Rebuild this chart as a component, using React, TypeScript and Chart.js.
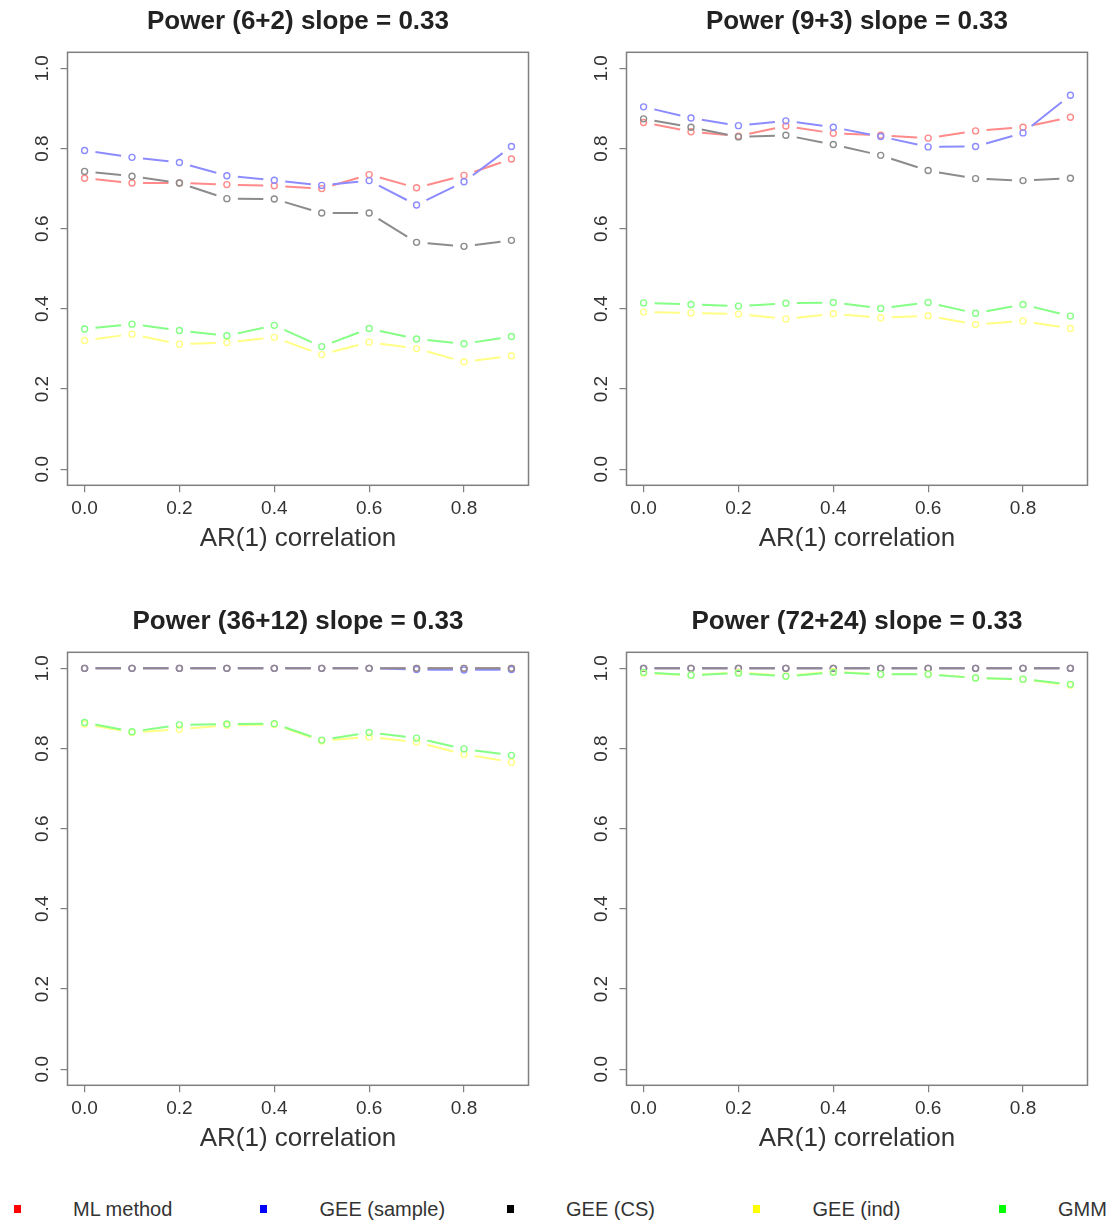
import React, { useEffect, useRef } from "react";
import { Chart, registerables } from "chart.js";

Chart.register(...registerables);

// ---------- data ----------
const xValues = [0, 0.1, 0.2, 0.3, 0.4, 0.5, 0.6, 0.7, 0.8, 0.9];
const xTicks = [0, 0.2, 0.4, 0.6, 0.8];
const yTicks = [0, 0.2, 0.4, 0.6, 0.8, 1.0];

const seriesNames = ["ML method", "GEE (sample)", "GEE (CS)", "GEE (ind)", "GMM"];
const legendColors = ["#ff0000", "#0000ff", "#000000", "#ffff00", "#00ff00"];
const lineColors = ["#ff8a8a", "#8c8cff", "#8c8c8c", "#ffff85", "#85ff85"];

const panelTitles = [
  "Power (6+2) slope = 0.33",
  "Power (9+3) slope = 0.33",
  "Power (36+12) slope = 0.33",
  "Power (72+24) slope = 0.33",
];

// Panel 1 (6+2)
const ml1 = [0.726, 0.714, 0.714, 0.71, 0.707, 0.7, 0.735, 0.702, 0.733, 0.774];
const sample1 = [0.795, 0.778, 0.765, 0.732, 0.721, 0.708, 0.72, 0.659, 0.717, 0.805];
const cs1 = [0.743, 0.731, 0.714, 0.675, 0.674, 0.639, 0.639, 0.566, 0.556, 0.571];
const ind1 = [0.321, 0.337, 0.312, 0.316, 0.329, 0.286, 0.317, 0.301, 0.268, 0.283];
const gmm1 = [0.35, 0.362, 0.346, 0.333, 0.359, 0.306, 0.351, 0.325, 0.313, 0.331];

// Panel 2 (9+3)
const ml2 = [0.865, 0.842, 0.831, 0.856, 0.838, 0.833, 0.826, 0.844, 0.853, 0.878];
const sample2 = [0.904, 0.876, 0.857, 0.869, 0.853, 0.83, 0.804, 0.805, 0.839, 0.933];
const cs2 = [0.874, 0.853, 0.829, 0.833, 0.81, 0.783, 0.745, 0.725, 0.72, 0.726];
const ind2 = [0.392, 0.39, 0.387, 0.375, 0.388, 0.378, 0.383, 0.361, 0.37, 0.351];
const gmm2 = [0.415, 0.411, 0.407, 0.414, 0.416, 0.401, 0.416, 0.389, 0.411, 0.382];

// Panel 3 (36+12)
const ml3 = [1, 1, 1, 1, 1, 1, 1, 1, 1, 1];
const sample3 = [1, 1, 1, 1, 1, 1, 1, 0.997, 0.996, 0.997];
const cs3 = [1, 1, 1, 1, 1, 1, 1, 1, 1, 1];
const ind3 = [0.861, 0.84, 0.848, 0.858, 0.86, 0.819, 0.829, 0.816, 0.786, 0.766];
const gmm3 = [0.865, 0.842, 0.859, 0.861, 0.862, 0.821, 0.84, 0.826, 0.799, 0.783];

// Panel 4 (72+24)
const ml4 = [1, 1, 1, 1, 1, 1, 1, 1, 1, 1];
const sample4 = [1, 1, 1, 1, 1, 1, 1, 1, 1, 1];
const cs4 = [1, 1, 1, 1, 1, 1, 1, 1, 1, 1];
const ind4 = [0.988, 0.983, 0.99, 0.981, 0.992, 0.985, 0.986, 0.976, 0.972, 0.958];
const gmm4 = [0.99, 0.983, 0.988, 0.98, 0.99, 0.985, 0.985, 0.976, 0.973, 0.96];

const panelSeries = [
  [ml1, sample1, cs1, ind1, gmm1],
  [ml2, sample2, cs2, ind2, gmm2],
  [ml3, sample3, cs3, ind3, gmm3],
  [ml4, sample4, cs4, ind4, gmm4],
];

// ---------- layout ----------
const FONT = "'Liberation Sans', Arial, sans-serif";
const CANVAS_W = 556;
const CANVAS_H = 590;
const GAP = 11;
const AXIS_GRAY = "#7f7f7f";
const TEXT = "#333333";

const boxPlugin = {
  id: "rbox",
  afterDraw(chart: any) {
    const { ctx, chartArea } = chart;
    const { left, top, right, bottom } = chartArea;
    ctx.save();
    ctx.strokeStyle = AXIS_GRAY;
    ctx.lineWidth = 1.5;
    ctx.strokeRect(left, top, right - left, bottom - top);
    ctx.restore();
  },
};

// R "type = b" look: line segments stop short of each point.
function gapDash(chart: any, vals: number[]): number[] {
  const xs = chart && chart.scales && chart.scales.x;
  const ys = chart && chart.scales && chart.scales.y;
  if (!xs || !ys || !chart.chartArea) return [];
  const pts = xValues.map((x, k) => [xs.getPixelForValue(x), ys.getPixelForValue(vals[k])]);
  const dash: number[] = [];
  for (let k = 0; k < pts.length - 1; k++) {
    const L = Math.hypot(pts[k + 1][0] - pts[k][0], pts[k + 1][1] - pts[k][1]);
    dash.push(0, GAP, Math.max(L - 2 * GAP, 0.01), GAP);
  }
  return dash;
}

function Panel({ title, series, left, top }: { title: string; series: number[][]; left: number; top: number }) {
  const ref = useRef<HTMLCanvasElement | null>(null);
  useEffect(() => {
    if (!ref.current) return;
    const datasets = series.map((vals, i) => ({
      label: seriesNames[i],
      data: xValues.map((x, k) => ({ x, y: vals[k] })),
      borderColor: lineColors[i],
      borderWidth: 2,
      borderCapStyle: "butt",
      borderDash: (c: any) => gapDash(c.chart, vals),
      pointBorderColor: lineColors[i],
      pointBackgroundColor: "rgba(0,0,0,0)",
      pointRadius: 3,
      pointBorderWidth: 1.4,
      pointStyle: "circle",
      order: series.length - i,
      fill: false,
      tension: 0,
      clip: false as any,
    }));
    const chart = new Chart(ref.current, {
      type: "line",
      data: { datasets },
      plugins: [boxPlugin],
      options: {
        animation: false,
        responsive: false,
        events: [],
        layout: { padding: { left: 0, right: 27.5, top: 0, bottom: 0 } },
        plugins: {
          legend: { display: false },
          tooltip: { enabled: false },
          title: {
            display: true,
            text: title,
            fullSize: false,
            color: "#222",
            font: { family: FONT, size: 26, weight: "bold", lineHeight: 1.2 },
            padding: { top: 6, bottom: 15.1 },
          },
        },
        scales: {
          x: {
            type: "linear",
            min: -0.036,
            max: 0.936,
            afterBuildTicks: (s: any) => {
              s.ticks = xTicks.map((v) => ({ value: v }));
            },
            afterFit: (s: any) => {
              s.height = CANVAS_H - 485.3;
            },
            grid: {
              display: true,
              drawOnChartArea: false,
              drawTicks: true,
              tickLength: 7,
              color: AXIS_GRAY,
              lineWidth: 1.2,
            },
            border: { display: false },
            ticks: {
              maxRotation: 0,
              minRotation: 0,
              padding: 5,
              color: TEXT,
              font: { family: FONT, size: 19 },
              callback: (v: any) => Number(v).toFixed(1),
            },
            title: {
              display: true,
              text: "AR(1) correlation",
              color: TEXT,
              font: { family: FONT, size: 26 },
              padding: { top: 0, bottom: 36 },
            },
          },
          y: {
            type: "linear",
            min: -0.04,
            max: 1.04,
            afterBuildTicks: (s: any) => {
              s.ticks = yTicks.map((v) => ({ value: v }));
            },
            afterFit: (s: any) => {
              s.width = 67.5;
            },
            grid: {
              display: true,
              drawOnChartArea: false,
              drawTicks: true,
              tickLength: 7,
              color: AXIS_GRAY,
              lineWidth: 1.2,
            },
            border: { display: false },
            ticks: {
              minRotation: 90,
              maxRotation: 90,
              crossAlign: "center",
              padding: 4.3,
              color: TEXT,
              font: { family: FONT, size: 19 },
              callback: (v: any) => Number(v).toFixed(1),
            },
          },
        },
      } as any,
    });
    return () => chart.destroy();
  }, [title, series]);
  return (
    <canvas
      ref={ref}
      width={CANVAS_W}
      height={CANVAS_H}
      style={{ position: "absolute", left, top, width: CANVAS_W, height: CANVAS_H }}
    />
  );
}

const panelPos = [
  { left: 0, top: 0 },
  { left: 559, top: 0 },
  { left: 0, top: 600 },
  { left: 559, top: 600 },
];

const legendSquareX = [17, 263.5, 510, 756.5, 1002];
const legendTextX = [73, 319.5, 566, 812.5, 1058];

export default function App() {
  return (
    <div
      style={{
        position: "absolute",
        left: 0,
        top: 0,
        width: 1115,
        height: 1226,
        overflow: "hidden",
        background: "#ffffff",
        fontFamily: FONT,
      }}
    >
      {panelTitles.map((t, i) => (
        <Panel key={t} title={t} series={panelSeries[i]} left={panelPos[i].left} top={panelPos[i].top} />
      ))}
      {seriesNames.map((name, i) => (
        <React.Fragment key={name}>
          <div
            style={{
              position: "absolute",
              left: legendSquareX[i] - 3.5,
              top: 1205,
              width: 7,
              height: 8,
              background: legendColors[i],
            }}
          />
          <div
            style={{
              position: "absolute",
              left: legendTextX[i],
              top: 1197,
              height: 24,
              lineHeight: "24px",
              fontSize: 20,
              color: TEXT,
              whiteSpace: "nowrap",
            }}
          >
            {name}
          </div>
        </React.Fragment>
      ))}
    </div>
  );
}
